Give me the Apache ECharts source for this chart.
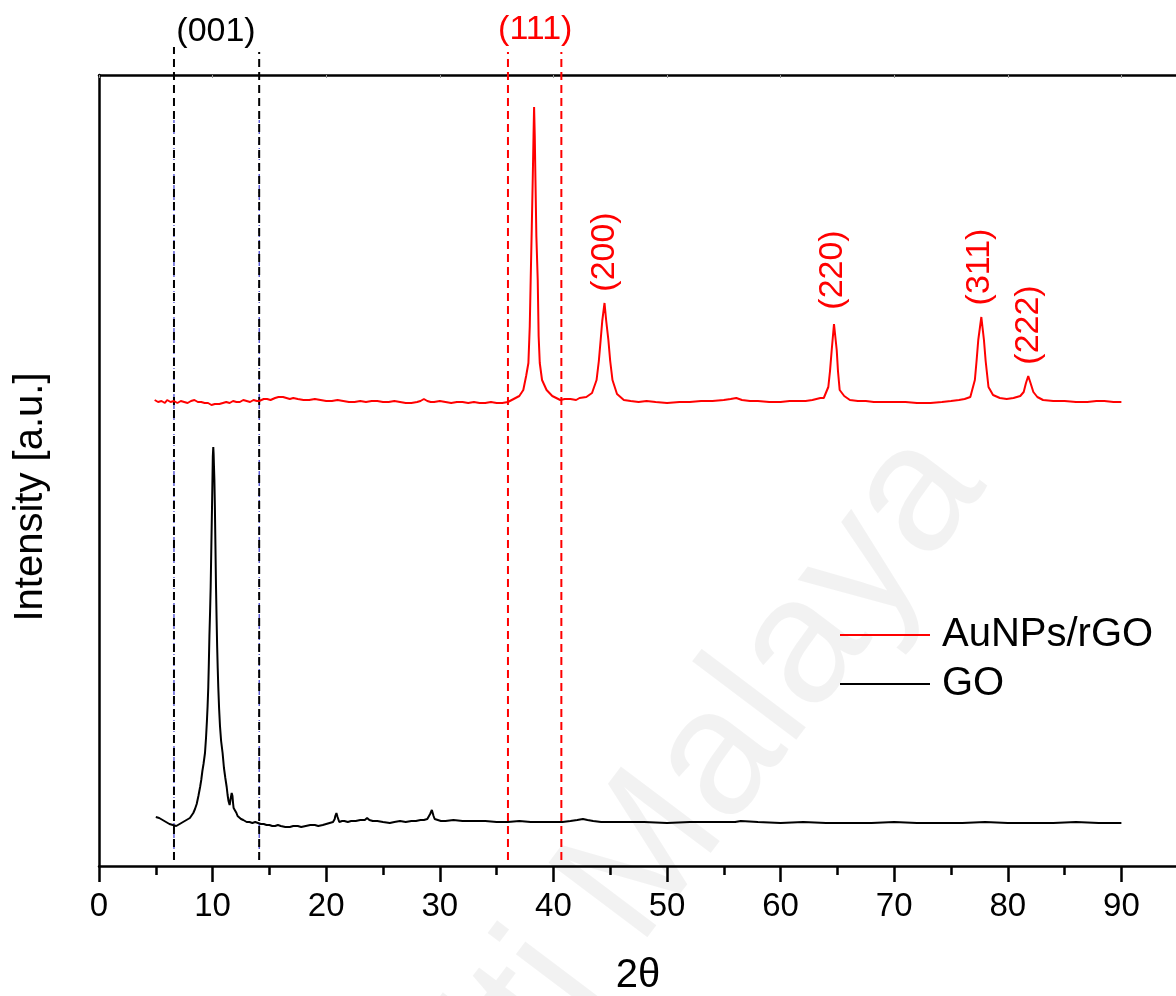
<!DOCTYPE html>
<html>
<head>
<meta charset="utf-8">
<script src="https://cdn.jsdelivr.net/npm/echarts@6/dist/echarts.min.js"></script>
<style>
html,body{margin:0;padding:0;background:#fff;}
#chart{width:1176px;height:996px;}
</style>
</head>
<body>
<div id="chart"></div>
<script>
// 2θ tick labels
var xTicks = [0, 10, 20, 30, 40, 50, 60, 70, 80, 90];

// AuNPs/rGO XRD pattern [2θ, intensity a.u.]
var auData = [
[4.9,466],[5.2,464],[5.5,465],[5.8,463],[6.0,466],[6.3,464],[6.6,465],[6.9,463],[7.2,465],[7.5,464],[7.8,463],[8.1,465],[8.4,466],[8.7,464],[9.0,464],[9.3,463],[9.6,463],[9.9,461],[10.2,462],[10.6,462],[10.9,463],[11.2,464],[11.5,463],[11.8,465],[12.1,464],[12.4,464],[12.7,466],[13.0,465],[13.3,464],[13.6,466],[13.9,465],[14.1,465],[14.5,467],[14.8,467],[15.1,466],[15.5,468],[15.8,469],[16.2,469],[16.5,468],[16.8,467],[17.1,468],[17.5,467],[18.0,466],[18.5,466],[19.0,467],[19.5,466],[20.0,465],[20.5,465],[21.0,466],[21.5,465],[22.0,464],[22.5,464],[23.0,465],[23.5,464],[24.0,465],[24.5,465],[25.0,464],[25.5,464],[26.0,465],[26.5,464],[27.0,463],[27.5,463],[28.0,464],[28.3,465],[28.6,467],[28.9,465],[29.2,464],[29.5,464],[30.0,465],[30.5,464],[31.0,463],[31.5,464],[32.0,464],[32.5,463],[33.0,464],[33.5,463],[34.0,463],[34.5,464],[35.0,463],[35.5,463],[36.0,464],[36.5,467],[37.0,470],[37.35,476],[37.6,490],[37.8,503],[37.92,540],[38.0,586],[38.1,640],[38.18,686],[38.25,730],[38.3,759],[38.36,730],[38.42,686],[38.5,630],[38.62,586],[38.7,530],[38.8,503],[39.0,486],[39.4,476],[39.9,470],[40.6,466],[41.0,467],[41.5,467],[42.0,466],[42.3,468],[42.9,469],[43.4,473],[43.8,486],[44.0,505],[44.16,526],[44.3,545],[44.5,563],[44.65,545],[44.84,526],[45.0,505],[45.2,486],[45.6,472],[46.2,466],[46.8,465],[47.5,464],[48.2,465],[49,464],[50,463],[51.1,464],[52,464],[53,465],[54,465],[55,466],[55.6,467],[56.1,468],[56.6,466],[57.3,465],[58,465],[59,464],[60,464],[60.8,465],[61.5,465],[62.2,465],[62.8,466],[63.5,468],[63.8,468],[64.2,479],[64.35,495],[64.5,516],[64.7,542],[64.94,516],[65.05,495],[65.2,476],[65.6,470],[66.1,466],[66.8,465],[67.5,465],[68.2,464],[69,464],[70,464],[71,464],[72,463],[73.2,463],[74.2,464],[75,465],[75.7,466],[76.2,467],[76.7,469],[77.1,486],[77.25,505],[77.4,526],[77.67,549],[77.9,526],[78.05,505],[78.3,479],[78.7,471],[79.3,468],[79.9,467],[80.5,468],[81.1,470],[81.4,474],[81.6,483],[81.8,490],[82.0,483],[82.25,474],[82.6,469],[83.1,466],[84,465],[85,465],[86,464],[87,464],[87.8,465],[88.5,465],[89.3,464],[90,464]
];

// GO XRD pattern [2θ, intensity a.u.]
var goData = [
[5.0,49],[5.15,47],[5.3,48],[5.45,46],[5.6,46],[5.75,45],[5.9,44],[6.05,43],[6.2,42],[6.35,42],[6.5,41],[6.65,40],[6.8,40],[6.95,41],[7.1,42],[7.25,43],[7.4,44],[7.55,45],[7.7,46],[7.85,47],[8.0,48],[8.15,50],[8.3,53],[8.45,57],[8.6,62],[8.75,70],[8.9,79],[9.0,86],[9.1,95],[9.2,102],[9.33,113],[9.42,128],[9.5,145],[9.56,160],[9.62,179],[9.67,203],[9.72,230],[9.78,255],[9.83,279],[9.89,320],[9.95,360],[10.02,410],[10.06,419],[10.09,412],[10.12,400],[10.16,385],[10.2,360],[10.25,320],[10.3,279],[10.35,248],[10.4,220],[10.45,198],[10.5,179],[10.57,158],[10.65,140],[10.75,125],[10.88,113],[11.0,98],[11.12,88],[11.24,79],[11.32,71],[11.4,65],[11.5,61],[11.55,63],[11.6,68],[11.68,73],[11.75,70],[11.8,63],[11.85,58],[11.97,56],[12.1,53],[12.2,50],[12.35,48],[12.5,47],[12.7,46],[12.85,45],[13.0,44],[13.25,44],[13.5,43],[13.75,44],[14.0,43],[14.25,42],[14.5,42],[14.75,41],[15.0,41],[15.25,40],[15.5,40],[15.75,41],[16.0,40],[16.4,39],[16.8,39],[17.1,40],[17.5,40],[17.8,39],[18.2,40],[18.6,41],[19.0,41],[19.3,40],[19.7,41],[20.0,42],[20.3,43],[20.6,44],[20.75,47],[20.8,50],[20.9,53],[21.0,49],[21.15,44],[21.4,45],[21.6,45],[21.9,44],[22.2,45],[22.6,45],[23.0,46],[23.4,46],[23.6,48],[23.8,46],[24.1,45],[24.5,45],[25.0,44],[25.6,43],[26.0,44],[26.5,45],[27.0,44],[27.5,45],[27.9,45],[28.3,46],[28.6,46],[28.9,47],[29.05,49],[29.15,52],[29.3,56],[29.45,50],[29.55,47],[29.7,46],[30.1,45],[30.5,45],[31.2,46],[32,45],[33,45],[34,45],[35,44],[36,44],[37,45],[38,44],[39,44],[40,44],[40.8,44],[41.5,45],[42.1,46],[42.6,47],[43.0,46],[43.5,45],[44.2,44],[45,44],[46.5,44],[48,44],[50,43],[52,44],[54,44],[56,44],[56.5,45],[58,44],[60,43],[62,44],[64,43],[66,43],[68,43],[70,44],[72,43],[74,43],[76,43],[78,44],[80,43],[82,43],[84,43],[86,44],[88,43],[90,43]
];

// Reference dashed lines: position (2θ), top, bottom, colour
var vlineX = [6.6, 14.1, 36.0, 40.7];
var vlineTop = [819, 814, 814, 814];
var vlineBottom = [6, 6, 6, 6];
var vlineColor = ['#000000', '#000000', '#ff0000', '#ff0000'];

// Miller index annotations
var hklText = ['(001)', '(111)', '(200)', '(220)', '(311)', '(222)'];
var hklX = [10.3, 38.4, 44.5, 64.6, 77.55, 81.8];
var hklY = [834, 836, 614, 596, 599, 541];
var hklRotated = [false, false, true, true, true, true];
var hklColor = ['#000000', '#ff0000', '#ff0000', '#ff0000', '#ff0000', '#ff0000'];

var FONT = "'Liberation Sans', Arial, sans-serif";
var chart = echarts.init(document.getElementById('chart'), null, {renderer: 'canvas'});

var series = [];
for (var i = 0; i < vlineX.length; i++) {
  series.push({
    type: 'line', name: 'vline' + i, silent: true, clip: false, symbol: 'none', z: 3,
    data: [[vlineX[i], vlineBottom[i]], [vlineX[i], vlineTop[i]]],
    lineStyle: {color: vlineColor[i], width: 2, type: [8, 5]}
  });
  if (i < 2) {
    series.push({
      type: 'line', name: 'vlineb' + i, silent: true, clip: false, symbol: 'none', z: 2,
      data: [[vlineX[i], vlineBottom[i]], [vlineX[i], 746]],
      lineStyle: {color: '#1010c0', width: 1, type: [4, 3, 1, 3]}
    });
  }
}
series.push({
  type: 'line', name: 'AuNPs/rGO', data: auData, symbol: 'none', showSymbol: false, z: 4,
  lineStyle: {color: '#ff0000', width: 2}, itemStyle: {color: '#ff0000'}
});
series.push({
  type: 'line', name: 'GO', data: goData, symbol: 'none', showSymbol: false, z: 4,
  lineStyle: {color: '#000000', width: 2}, itemStyle: {color: '#000000'}
});
var hklPlain = [], hklRot = [];
for (var k = 0; k < hklText.length; k++) {
  var item = {name: hklText[k], value: [hklX[k], hklY[k]],
    label: {color: hklColor[k], textBorderWidth: 0, textBorderColor: 'transparent'}};
  if (hklRotated[k]) hklRot.push(item); else hklPlain.push(item);
}
var hklLabel = {show: true, position: 'inside', formatter: '{b}', fontSize: 34, fontFamily: FONT,
  textBorderWidth: 0, textBorderColor: 'transparent', opacity: 1};
series.push({
  type: 'scatter', name: 'hkl', data: hklPlain, symbolSize: 0, clip: false, silent: true, z: 5,
  itemStyle: {opacity: 1}, label: hklLabel
});
series.push({
  type: 'scatter', name: 'hklr', data: hklRot, symbolSize: 0, clip: false, silent: true, z: 5,
  itemStyle: {opacity: 1}, label: Object.assign({}, hklLabel, {rotate: 90})
});

var legendIcon = 'path://M0,0 L90,0 L90,2 L0,2 Z';

chart.setOption({
  animation: false,
  backgroundColor: '#ffffff',
  textStyle: {fontFamily: FONT},
  grid: {left: 99, width: 1136, top: 75, height: 791, containLabel: false, outerBoundsMode: 'none'},
  legend: {
    data: [{name: 'AuNPs/rGO', icon: legendIcon}, {name: 'GO', icon: legendIcon}],
    orient: 'vertical', left: 835, top: 610,
    itemWidth: 90, itemHeight: 40, itemGap: 9,
    textStyle: {fontSize: 40, fontFamily: FONT, color: '#000', padding: [0, 0, 0, 7]}
  },
  xAxis: [{
    type: 'value', min: 0, max: 100, interval: 10, position: 'bottom',
    axisLine: {show: true, onZero: false, lineStyle: {color: '#000', width: 2.5}},
    axisTick: {show: true, inside: false, length: 16, lineStyle: {color: '#000', width: 2.5}},
    minorTick: {show: true, splitNumber: 2, length: 9, lineStyle: {color: '#000', width: 2.5}},
    splitLine: {show: false},
    axisLabel: {
      show: true, margin: 24, fontSize: 33, fontFamily: FONT, color: '#000', showMaxLabel: false,
      formatter: function (v) { return xTicks.indexOf(v) >= 0 ? String(v) : ''; }
    },
    name: '2θ', nameLocation: 'middle', nameGap: 90,
    nameTextStyle: {fontSize: 40, fontFamily: FONT, color: '#000', padding: [0, 58, 0, 0]}
  }, {
    type: 'value', min: 0, max: 100, interval: 10, position: 'top',
    axisLine: {show: true, onZero: false, lineStyle: {color: '#000', width: 2.5}},
    axisTick: {show: true, inside: true, length: 3, lineStyle: {color: '#999', width: 1}},
    axisLabel: {show: false}, splitLine: {show: false}
  }],
  yAxis: {
    type: 'value', min: 0, max: 791,
    axisLine: {show: true, onZero: false, lineStyle: {color: '#000', width: 2.5}},
    axisTick: {show: false}, axisLabel: {show: false}, splitLine: {show: false}
  },
  graphic: [{
    type: 'text', x: 31, y: 497, rotation: Math.PI / 2, silent: true,
    style: {text: 'Intensity [a.u.]', fontSize: 40, fontFamily: FONT, fill: '#000',
      textAlign: 'center', textVerticalAlign: 'middle', align: 'center', verticalAlign: 'middle'}
  }, {
    type: 'text', x: 1020, y: 510, rotation: 53 * Math.PI / 180, silent: true, z: -10,
    style: {text: 'Universiti Malaya', fontSize: 180, fontFamily: FONT, fill: 'rgba(0,0,0,0.05)',
      textAlign: 'right', textVerticalAlign: 'bottom', align: 'right', verticalAlign: 'bottom'}
  }],
  series: series
});
</script>
</body>
</html>
